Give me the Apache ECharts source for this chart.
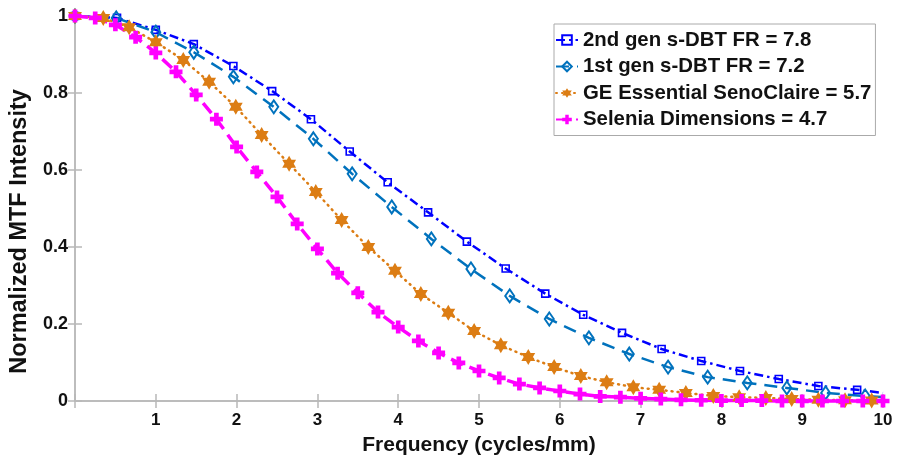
<!DOCTYPE html>
<html><head><meta charset="utf-8">
<script src="https://cdn.jsdelivr.net/npm/echarts@6/dist/echarts.min.js"></script>
<style>html,body{margin:0;padding:0;background:#fff}#c{width:897px;height:462px}</style>
</head><body><div id="c"></div>
<script>
var seriesNames = ['2nd gen s-DBT FR = 7.8','1st gen s-DBT FR = 7.2','GE Essential SenoClaire = 5.7','Selenia Dimensions = 4.7'];
var gen2X = [0,0.52,1.0,1.47,1.96,2.44,2.92,3.40,3.87,4.37,4.85,5.33,5.82,6.29,6.77,7.26,7.75,8.23,8.71,9.20,9.68,10];
var gen2Y = [1.0,0.995,0.964,0.927,0.870,0.805,0.732,0.648,0.568,0.490,0.414,0.344,0.279,0.224,0.177,0.135,0.104,0.078,0.057,0.039,0.029,0.021];
var gen1X = [0,0.51,1.0,1.47,1.96,2.46,2.95,3.43,3.92,4.41,4.90,5.38,5.87,6.36,6.86,7.34,7.83,8.32,8.81,9.29,9.78,10];
var gen1Y = [1.0,0.995,0.958,0.906,0.842,0.764,0.681,0.590,0.504,0.421,0.343,0.273,0.213,0.164,0.122,0.088,0.062,0.047,0.034,0.021,0.013,0.010];
var geX = [0,0.35,0.67,1.0,1.34,1.66,1.99,2.31,2.65,2.98,3.30,3.63,3.96,4.28,4.62,4.94,5.27,5.61,5.93,6.26,6.58,6.91,7.23,7.56,7.90,8.22,8.55,8.87,9.20,9.53,9.86,10];
var geY = [1.0,0.995,0.971,0.932,0.886,0.829,0.764,0.691,0.616,0.543,0.470,0.400,0.338,0.278,0.229,0.182,0.145,0.114,0.088,0.065,0.049,0.036,0.029,0.021,0.013,0.010,0.008,0.005,0.003,0.002,0.001,0.001];
var selX = [0,0.25,0.5,0.75,1.0,1.25,1.5,1.75,2.0,2.25,2.5,2.75,3.0,3.25,3.5,3.75,4.0,4.25,4.5,4.75,5.0,5.25,5.5,5.75,6.0,6.25,6.5,6.75,7.0,7.25,7.5,7.75,8.0,8.25,8.5,8.75,9.0,9.25,9.5,9.75,10];
var selY = [1.0,0.995,0.977,0.945,0.904,0.855,0.795,0.732,0.660,0.595,0.530,0.460,0.395,0.332,0.281,0.231,0.192,0.156,0.125,0.099,0.078,0.060,0.044,0.034,0.026,0.018,0.012,0.010,0.007,0.005,0.003,0.002,0.001,0.001,0.001,0,0,0,0,0,0];
var xTicks = [0,1,2,3,4,5,6,7,8,9,10];
var yTicks = [0,0.2,0.4,0.6,0.8,1];

function pairs(xs, ys, lastNoSymbol){
  return xs.map(function(x,i){
    var d = {value:[x, ys[i]]};
    if (lastNoSymbol && i === xs.length-1) d.symbol = 'none';
    return d;
  });
}
var FONT = 'Arial, "Liberation Sans", sans-serif';
var AXC = '#b8b8b8';
var star = 'path://M0,-10 L8.66,5 L-8.66,5 Z M0,10 L-8.66,-5 L8.66,-5 Z';
var plus = 'path://M-1.8,-5 L1.8,-5 L1.8,-1.8 L5,-1.8 L5,1.8 L1.8,1.8 L1.8,5 L-1.8,5 L-1.8,1.8 L-5,1.8 L-5,-1.8 L-1.8,-1.8 Z';

var chart = echarts.init(document.getElementById('c'), null, {renderer:'canvas'});
var baseX = {type:'value', min:xTicks[0], max:xTicks[xTicks.length-1], interval:1, splitLine:{show:false},
  axisLine:{show:true, lineStyle:{color:AXC, width:1.5}},
  axisTick:{show:true, inside:true, length:7, lineStyle:{color:AXC, width:1.5}}};
var baseY = {type:'value', min:yTicks[0], max:yTicks[yTicks.length-1], interval:0.2, splitLine:{show:false},
  axisLine:{show:true, lineStyle:{color:AXC, width:1.5}},
  axisTick:{show:true, inside:true, length:7, lineStyle:{color:AXC, width:1.5}}};
chart.setOption({
  animation:false,
  backgroundColor:'#fff',
  grid:{left:75, right:14, top:16, bottom:61, containLabel:false, outerBoundsMode:'none'},
  legend:{
    left:554, top:24, orient:'vertical', itemGap:6.5, itemWidth:22, itemHeight:12,
    padding:[6,4,6,1], backgroundColor:'#fff', borderColor:'#aaa', borderWidth:1, borderRadius:0,
    textStyle:{fontFamily:FONT, fontWeight:'bold', fontSize:20.4, color:'#111'},
    data:seriesNames
  },
  xAxis:[
    Object.assign({}, baseX, {position:'bottom', name:'Frequency (cycles/mm)', nameLocation:'middle', nameGap:34,
      nameTextStyle:{fontFamily:FONT, fontWeight:'bold', fontSize:21, color:'#111'},
      axisLabel:{margin:11, fontFamily:FONT, fontWeight:'bold', fontSize:17, color:'#111',
        formatter:function(v){return v===0?'':String(v);}}}),
    Object.assign({}, baseX, {position:'top', axisLabel:{show:false}})
  ],
  yAxis:[
    Object.assign({}, baseY, {position:'left', name:'Normalized MTF Intensity', nameLocation:'middle', nameGap:43,
      nameTextStyle:{fontFamily:FONT, fontWeight:'bold', fontSize:23.5, color:'#111', padding:[0,46,0,0]},
      axisLabel:{margin:7, fontFamily:FONT, fontWeight:'bold', fontSize:18, color:'#111',
        formatter:function(v){return String(Math.round(v*10)/10);}}}),
    Object.assign({}, baseY, {position:'right', axisLabel:{show:false}})
  ],
  series:[
    {name:seriesNames[0], type:'line', clip:false, data:pairs(gen2X,gen2Y,true),
     symbol:'rect', symbolSize:7, lineStyle:{color:'#0000ff', width:2.5, type:[9,4,2.5,4]},
     itemStyle:{color:'rgba(255,255,255,0)', borderColor:'#0000ff', borderWidth:1.6}},
    {name:seriesNames[1], type:'line', clip:false, data:pairs(gen1X,gen1Y,true),
     symbol:'diamond', symbolSize:[9,13], lineStyle:{color:'#0072bd', width:2.5, type:[13,8]},
     itemStyle:{color:'rgba(255,255,255,0)', borderColor:'#0072bd', borderWidth:2}},
    {name:seriesNames[2], type:'line', clip:false, data:pairs(geX,geY,true),
     symbol:star, symbolSize:16, symbolKeepAspect:true,
     lineStyle:{color:'#dc7d14', width:2.5, type:[1,5], cap:'round'},
     itemStyle:{color:'#dc7d14'}},
    {name:seriesNames[3], type:'line', clip:false, data:pairs(selX,selY,false),
     symbol:plus, symbolSize:13, symbolKeepAspect:true,
     lineStyle:{color:'#ff00ff', width:3.5, type:[13,7]},
     itemStyle:{color:'#ff00ff'}}
  ]
});
</script></body></html>
